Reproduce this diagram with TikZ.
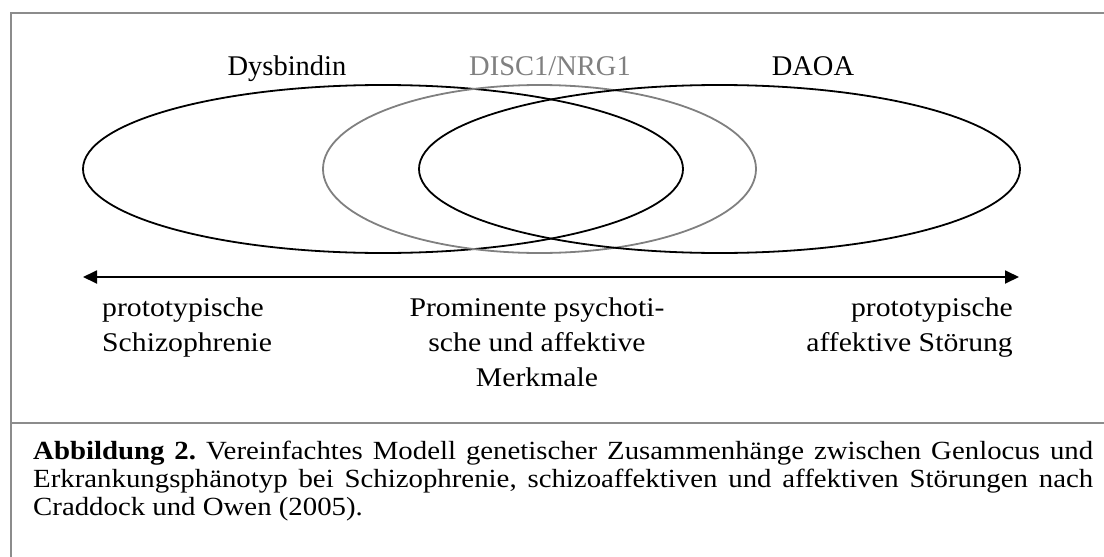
\documentclass[tikz,border=0pt]{standalone}
\usepackage{fontspec}
\setmainfont{Liberation Serif}
\newfontfamily\widefam[FakeStretch=1.1]{Liberation Serif}
\usetikzlibrary{arrows.meta,shapes.geometric}
\frenchspacing
\definecolor{framegray}{RGB}{140,140,140}
\definecolor{midgray}{RGB}{128,128,128}
\newcommand{\toplabfont}{\fontsize{28.5}{32}\selectfont}
\newcommand{\lowfont}{\widefam\fontsize{27}{35}\selectfont}
\newcommand{\capfont}{\widefam\fontsize{26.2}{28}\selectfont}
\tikzset{
  frameline/.style={draw=framegray, line width=2pt},
  locus/.style={ellipse, draw=black, line width=1.8pt, inner sep=0pt, minimum height=168pt},
  locusgray/.style={locus, draw=midgray},
  toplabel/.style={anchor=base, inner sep=0pt, font=\toplabfont},
  lowlabel/.style={inner sep=0pt, font=\lowfont},
  axis/.style={line width=1.8pt, {Triangle[length=14pt,width=13pt]}-{Triangle[length=14pt,width=13pt]}}
}
\begin{document}
\begin{tikzpicture}[x=1pt,y=-1pt]
\useasboundingbox (0,0) rectangle (1104,557);
% frame
\draw[frameline] (11,557) -- (11,13) -- (1104,13);
\draw[frameline] (11,422.5) -- (1104,422.5);
% ellipses
\node[locus, minimum width=600pt] (dys) at (383,169) {};
\node[locusgray, minimum width=433pt] (disc) at (539.5,169) {};
\node[locus, minimum width=601pt] (daoa) at (719.5,169) {};
% top labels
\node[toplabel] (ldys) at (287,75) {Dysbindin};
\node[toplabel, text=midgray] (ldisc) at (550,75) {DISC1/NRG1};
\node[toplabel] (ldaoa) at (813,75) {DAOA};
% axis
\coordinate (axl) at (83,277);
\coordinate (axr) at (1019,277);
\draw[axis] (axl) -- (axr);
% lower labels
\node[lowlabel, anchor=north west, align=left] (lschiz) at (102,297.5) {prototypische\\Schizophrenie};
\node[lowlabel, anchor=north, align=center] (lmid) at (537,297.5) {Prominente psychoti-\\sche und affektive\\Merkmale};
\node[lowlabel, anchor=north east, align=right] (laff) at (1013,297.5) {prototypische\\affektive Störung};
% caption
\node[inner sep=0pt, anchor=north west, text width=1060pt, align=justify, font=\capfont] (cap) at (33,441)
{\capfont\frenchspacing\baselineskip=28pt\textbf{Abbildung 2.} Vereinfachtes Modell genetischer Zusammenhänge zwischen Genlocus und\linebreak
Erkrankungsphänotyp bei Schizophrenie, schizoaffektiven und affektiven Störungen nach\linebreak
Craddock und Owen (2005).\par};
\end{tikzpicture}
\end{document}
